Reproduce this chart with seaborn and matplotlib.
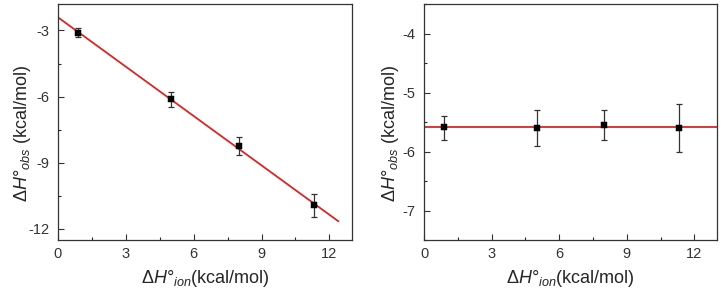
import numpy as np
import pandas as pd
import matplotlib
matplotlib.use("Agg")
import matplotlib.pyplot as plt
from matplotlib.ticker import MultipleLocator
import seaborn as sns

# data
h_ion = [0.87, 5.0, 8.0, 11.3]

# left panel
h_obs_left = [-3.1, -6.12, -8.25, -10.92]
err_left = [0.19, 0.33, 0.4, 0.52]
fit_x_left = [0.0, 12.4]

# right panel
h_obs_right = [-5.59, -5.61, -5.55, -5.6]
err_right_lo = [0.21, 0.29, 0.25, 0.4]
err_right_hi = [0.19, 0.31, 0.25, 0.4]

sns.set_style("ticks")
plt.rcParams["font.family"] = ["Liberation Sans", "DejaVu Sans"]
plt.rcParams["mathtext.fontset"] = "custom"
plt.rcParams["mathtext.rm"] = "Liberation Sans"
plt.rcParams["mathtext.it"] = "Liberation Sans:italic"
plt.rcParams["axes.unicode_minus"] = False
plt.rcParams["xtick.direction"] = "in"
plt.rcParams["ytick.direction"] = "in"

fig = plt.figure(figsize=(7.22, 2.95), dpi=100)
ax1 = fig.add_axes([58 / 722, 55 / 295, 294 / 722, 236 / 295])
ax2 = fig.add_axes([424 / 722, 55 / 295, 293 / 722, 236 / 295])

left = pd.DataFrame({"x": h_ion, "y": h_obs_left})
right = pd.DataFrame({"x": h_ion, "y": h_obs_right})

# linear fit for the left panel
slope, icpt = np.polyfit(h_ion, h_obs_left, 1)
fit_left = pd.DataFrame({"x": fit_x_left, "y": [icpt + slope * v for v in fit_x_left]})
sns.lineplot(data=fit_left, x="x", y="y", ax=ax1, color="#dc2424", lw=1.3, zorder=2)
ax1.errorbar(h_ion, h_obs_left, yerr=err_left, fmt="none", ecolor="#333333",
             elinewidth=0.9, capsize=2.5, capthick=0.9, zorder=3)
sns.scatterplot(data=left, x="x", y="y", ax=ax1, marker="s", s=18, color="black",
                edgecolor="black", zorder=4)

# flat line for the right panel
ax2.axhline(np.mean(h_obs_right), color="#dc2424", lw=1.3, zorder=2)
ax2.errorbar(h_ion, h_obs_right, yerr=[err_right_lo, err_right_hi], fmt="none",
             ecolor="#333333", elinewidth=0.9, capsize=2.5, capthick=0.9, zorder=3)
sns.scatterplot(data=right, x="x", y="y", ax=ax2, marker="s", s=18, color="black",
                edgecolor="black", zorder=4)

ax1.set_xlim(0, 13)
ax1.set_ylim(-12.5, -1.8)
ax1.xaxis.set_major_locator(MultipleLocator(3))
ax1.xaxis.set_minor_locator(MultipleLocator(1.5))
ax1.yaxis.set_major_locator(MultipleLocator(3))
ax1.yaxis.set_minor_locator(MultipleLocator(1.5))

ax2.set_xlim(0, 13)
ax2.set_ylim(-7.5, -3.5)
ax2.xaxis.set_major_locator(MultipleLocator(3))
ax2.xaxis.set_minor_locator(MultipleLocator(1.5))
ax2.yaxis.set_major_locator(MultipleLocator(1))
ax2.yaxis.set_minor_locator(MultipleLocator(0.5))

xlab = r"$\Delta\mathit{H}$°$_{\mathit{ion}}$(kcal/mol)"
ylab = r"$\Delta\mathit{H}$°$_{\mathit{obs}}$ (kcal/mol)"
for ax in (ax1, ax2):
    for s in ax.spines.values():
        s.set_color("#333333")
        s.set_linewidth(0.9)
    ax.tick_params(which="major", length=4, width=0.8, labelsize=10.5,
                   colors="#333333")
    ax.tick_params(which="minor", length=2.5, width=0.8)
    ax.tick_params(axis="y", pad=6)
    ax.tick_params(axis="x", pad=5)
    ax.set_xlabel(xlab, fontsize=13, labelpad=5)
    ax.set_ylabel(ylab, fontsize=13)

ax1.yaxis.set_label_coords(-0.085, 0.45)
ax2.yaxis.set_label_coords(-0.08, 0.45)

fig.savefig("out.png", dpi=100)
